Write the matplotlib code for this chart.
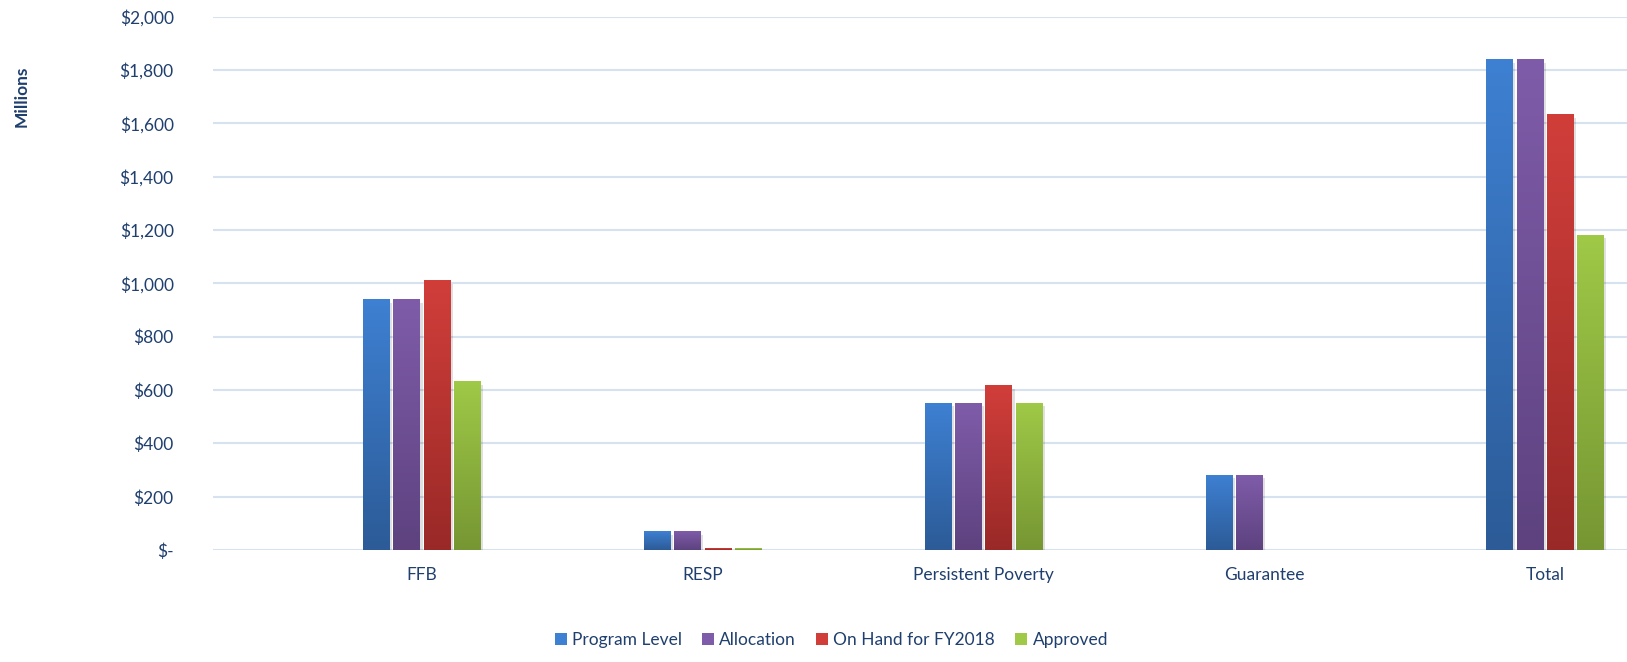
import matplotlib
matplotlib.use('Agg')
import matplotlib.pyplot as plt
import numpy as np
from matplotlib import patheffects as pe
from matplotlib.colors import LinearSegmentedColormap
from matplotlib.patches import Patch

categories = ['FFB', 'RESP', 'Persistent Poverty', 'Guarantee', 'Total']
series = ['Program Level', 'Allocation', 'On Hand for FY2018', 'Approved']
program_level = [938, 68, 549, 281, 1838]
allocation = [938, 68, 549, 281, 1838]
on_hand = [1009, 5, 615, 0, 1632]
approved = [630, 5, 549, 0, 1180]
yticks = [0, 200, 400, 600, 800, 1000, 1200, 1400, 1600, 1800, 2000]
yticklabels = ['$-', '$200', '$400', '$600', '$800', '$1,000', '$1,200',
               '$1,400', '$1,600', '$1,800', '$2,000']

values = [program_level, allocation, on_hand, approved]
# top colour, bottom colour for the gradient fill
grads = [('#3E80D2', '#2C5B97'), ('#7F5CA9', '#5D427F'),
         ('#D13E3A', '#992927'), ('#9FC947', '#769633')]
text_col = '#1F3F6E'
plt.rcParams['font.family'] = ['Lato', 'DejaVu Sans']

fig = plt.figure(figsize=(16.27, 6.62), dpi=100)
ax = fig.add_axes([0.1307, 0.169, 0.8693, 0.806])

x = np.arange(len(categories))
step = 0.108
width = 0.094
for i, vals in enumerate(values):
    pos = x + (i - 1.5) * step
    bars = ax.bar(pos, vals, width, color=grads[i][0], label=series[i], zorder=3)
    cmap = LinearSegmentedColormap.from_list('g%d' % i, [grads[i][1], grads[i][0]])
    for b in bars:
        h = b.get_height()
        if h <= 0:
            continue
        b.set_path_effects([pe.SimplePatchShadow(offset=(2, -2), shadow_rgbFace='#000000', alpha=0.12),
                            pe.Normal()])
        grad = np.linspace(0, 1, 256).reshape(-1, 1)
        ax.imshow(grad, extent=(b.get_x(), b.get_x() + b.get_width(), 0, h),
                  origin='lower', aspect='auto', cmap=cmap, zorder=4)

ax.set_xlim(-0.745, 4.292)
ax.set_ylim(0, 2000)
ax.set_yticks(yticks)
ax.set_yticklabels(yticklabels)
ax.set_xticks(x)
ax.set_xticklabels(categories)
ax.tick_params(axis='both', length=0, colors=text_col, labelsize=12.5)
ax.tick_params(axis='y', pad=28)
ax.tick_params(axis='x', pad=12)
for s in ax.spines.values():
    s.set_visible(False)
ax.grid(axis='y', color='#D6E2F0', linewidth=1.5, zorder=0)
ax.set_axisbelow(True)

fig.text(0.0135, 0.855, 'Millions', rotation=90, ha='center', va='center',
         color=text_col, fontsize=12.5, fontweight='bold')

handles = [Patch(facecolor=grads[i][0], label=series[i]) for i in range(4)]
fig.legend(handles=handles, loc='center', bbox_to_anchor=(0.511, 0.033), ncol=4,
           frameon=False, fontsize=12.5, labelcolor=text_col, handlelength=0.7,
           handleheight=0.7, handletextpad=0.3, columnspacing=1.15)

fig.savefig('out.png', dpi=100)
